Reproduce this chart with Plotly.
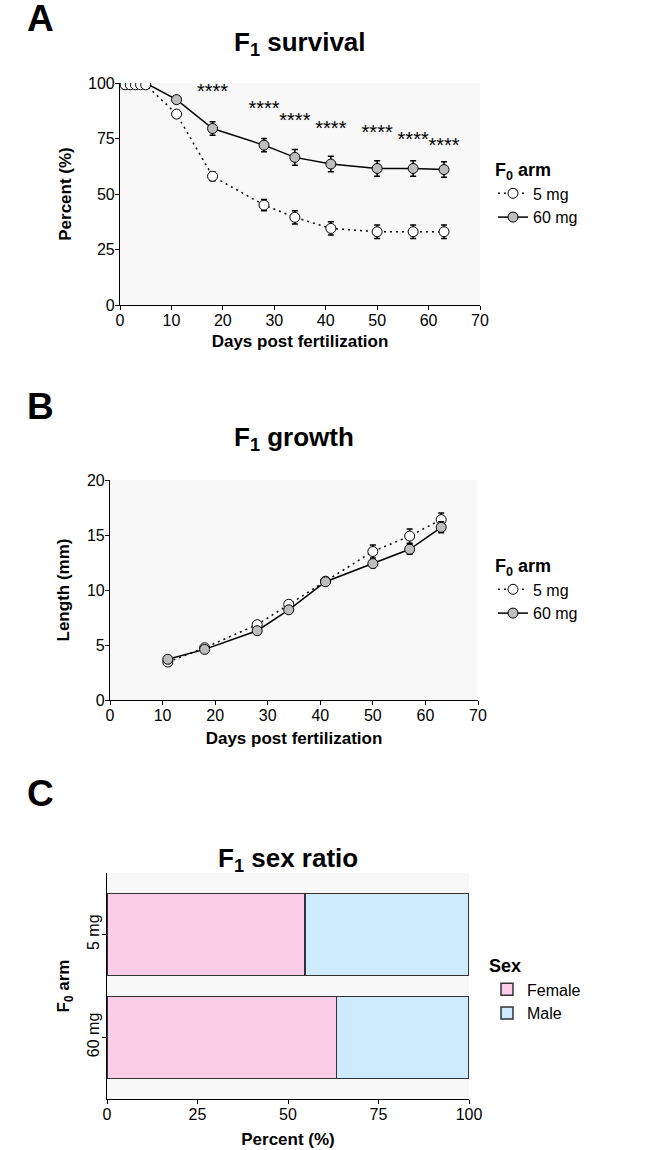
import plotly.graph_objects as go

# ---------------- data ----------------
days_surv = [1, 2, 3, 4, 5, 11, 18, 28, 34, 41, 50, 57, 63]
surv_5mg = [99.2, 99.2, 99.2, 99.2, 99.2, 86, 58, 45, 39.5, 34.5, 33, 33, 33]
surv_5mg_err = [0, 0, 0, 0, 0, 1, 2, 2.5, 3, 3, 3, 3, 3]
surv_60mg = [100, 100, 100, 100, 100, 92.5, 79.5, 72, 66.5, 63.5, 61.5, 61.5, 61]
surv_60mg_err = [0, 0, 0, 0, 0, 1.5, 3, 3, 3.5, 3.5, 3.5, 3.5, 3.5]

star_days = [18, 28, 34, 41, 50, 57, 63]
star_y = [95.5, 88, 82.5, 79, 77, 74, 71]
star_labels = ["****"] * 7

days_growth = [11, 18, 28, 34, 41, 50, 57, 63]
len_5mg = [3.45, 4.75, 6.85, 8.7, 10.8, 13.5, 14.9, 16.4]
len_5mg_err = [0.15, 0.2, 0.2, 0.35, 0.3, 0.6, 0.65, 0.6]
len_60mg = [3.7, 4.6, 6.3, 8.2, 10.75, 12.4, 13.7, 15.7]
len_60mg_err = [0.15, 0.2, 0.2, 0.25, 0.3, 0.35, 0.45, 0.5]

arms = ["5 mg", "60 mg"]
female_pct = [54.7, 63.4]
male_pct = [45.3, 36.6]

# ---------------- style ----------------
FONT = "Liberation Sans, Arial, Helvetica, sans-serif"
W, H = 650, 1150
BG = "#F8F8F8"
GREY = "#BEBEBE"
FEMALE = "#FCCDE6"
MALE = "#CDEBFC"


def px_x(x):
    return x / W


def px_y(y):
    return 1 - y / H


fig = go.Figure()

# ---- Panel A : survival (60 mg drawn first so 5 mg circles sit on top at days 1-5) ----
fig.add_trace(go.Scatter(
    x=days_surv, y=surv_60mg, name="60 mg", mode="lines+markers", legendrank=2,
    line=dict(color="black", width=1.5),
    marker=dict(symbol="circle", size=10, color=GREY, line=dict(color="black", width=1)),
    error_y=dict(type="data", array=surv_60mg_err, color="black", thickness=1.5, width=3),
    xaxis="x", yaxis="y", legend="legend"))
fig.add_trace(go.Scatter(
    x=days_surv, y=surv_5mg, name="5 mg", mode="lines+markers", legendrank=1,
    line=dict(color="black", width=1.5, dash="2px,4px"),
    marker=dict(symbol="circle", size=10, color="white", line=dict(color="black", width=1)),
    error_y=dict(type="data", array=surv_5mg_err, color="black", thickness=1.5, width=3),
    xaxis="x", yaxis="y", legend="legend"))
fig.add_trace(go.Scatter(
    x=star_days, y=star_y, text=star_labels, mode="text",
    textfont=dict(family=FONT, size=20, color="black"), textposition="middle center",
    showlegend=False, hoverinfo="skip", cliponaxis=False,
    xaxis="x", yaxis="y"))

# ---- Panel B : growth ----
fig.add_trace(go.Scatter(
    x=days_growth, y=len_5mg, name="5 mg", mode="lines+markers", legendrank=1,
    line=dict(color="black", width=1.5, dash="2px,4px"),
    marker=dict(symbol="circle", size=10, color="white", line=dict(color="black", width=1)),
    error_y=dict(type="data", array=len_5mg_err, color="black", thickness=1.5, width=3),
    xaxis="x2", yaxis="y2", legend="legend2"))
fig.add_trace(go.Scatter(
    x=days_growth, y=len_60mg, name="60 mg", mode="lines+markers", legendrank=2,
    line=dict(color="black", width=1.5),
    marker=dict(symbol="circle", size=10, color=GREY, line=dict(color="black", width=1)),
    error_y=dict(type="data", array=len_60mg_err, color="black", thickness=1.5, width=3),
    xaxis="x2", yaxis="y2", legend="legend2"))

# ---- Panel C : sex ratio ----
fig.add_trace(go.Bar(
    y=arms, x=female_pct, name="Female", orientation="h", width=0.8,
    marker=dict(color=FEMALE, line=dict(color="#333333", width=1.5)),
    xaxis="x3", yaxis="y3", legend="legend3"))
fig.add_trace(go.Bar(
    y=arms, x=male_pct, name="Male", orientation="h", width=0.8,
    marker=dict(color=MALE, line=dict(color="#333333", width=1.5)),
    xaxis="x3", yaxis="y3", legend="legend3"))

tickfont = dict(family=FONT, size=16, color="black")
titlefont = dict(family=FONT, size=17, color="black")

axis_common = dict(
    showline=True, linecolor="black", linewidth=1.2, ticks="outside", ticklen=4,
    tickcolor="black", tickwidth=1, showgrid=False, zeroline=False, tickfont=tickfont,
    mirror=False, automargin=False, ticklabelstandoff=-3,
)

legend_common = dict(
    xanchor="left", yanchor="top", bgcolor="rgba(0,0,0,0)", itemwidth=30,
    tracegroupgap=0, font=dict(family=FONT, size=16), traceorder="normal",
)

layout = dict(
    width=W, height=H,
    margin=dict(l=0, r=0, t=0, b=0, pad=0, autoexpand=False),
    paper_bgcolor="white",
    plot_bgcolor=BG,
    font=dict(family=FONT, color="black"),
    barmode="stack",
    showlegend=True,
    # Panel A axes
    xaxis=dict(axis_common, domain=[px_x(120), px_x(480)], range=[0, 70], tickvals=[0, 10, 20, 30, 40, 50, 60, 70],
               anchor="y", title=dict(text="<b>Days post fertilization</b>", font=titlefont, standoff=6)),
    yaxis=dict(axis_common, domain=[px_y(305), px_y(83)], range=[0, 100], tickvals=[0, 25, 50, 75, 100],
               anchor="x", title=dict(text="<b>Percent (%)</b>", font=titlefont, standoff=12)),
    # Panel B axes
    xaxis2=dict(axis_common, domain=[px_x(110), px_x(478)], range=[0, 70], tickvals=[0, 10, 20, 30, 40, 50, 60, 70],
                anchor="y2", title=dict(text="<b>Days post fertilization</b>", font=titlefont, standoff=8)),
    yaxis2=dict(axis_common, domain=[px_y(700), px_y(480)], range=[0, 20], tickvals=[0, 5, 10, 15, 20],
                anchor="x2", title=dict(text="<b>Length (mm)</b>", font=titlefont, standoff=12)),
    # Panel C axes
    xaxis3=dict(axis_common, domain=[px_x(107), px_x(469)], range=[0, 100], tickvals=[0, 25, 50, 75, 100],
                anchor="y3", title=dict(text="<b>Percent (%)</b>", font=titlefont, standoff=10)),
    yaxis3=dict(axis_common, domain=[px_y(1099), px_y(873)], type="category",
                categoryorder="array", categoryarray=["60 mg", "5 mg"], range=[-0.6, 1.6],
                tickangle=-90, anchor="x3",
                title=dict(text="<b>F<sub>0</sub> arm</b>", font=titlefont, standoff=10)),
    legend=dict(legend_common, x=px_x(493), y=px_y(153),
                title=dict(text="<b>F<sub>0</sub> arm</b>", font=dict(family=FONT, size=18))),
    legend2=dict(legend_common, x=px_x(493), y=px_y(549),
                 title=dict(text="<b>F<sub>0</sub> arm</b>", font=dict(family=FONT, size=18))),
    legend3=dict(legend_common, x=px_x(487), y=px_y(949),
                 title=dict(text="<b>Sex</b>", font=dict(family=FONT, size=18))),
    annotations=[
        dict(text="<b>A</b>", x=px_x(40), y=px_y(19), xref="paper", yref="paper", showarrow=False,
             font=dict(family=FONT, size=37), xanchor="center", yanchor="middle"),
        dict(text="<b>B</b>", x=px_x(40), y=px_y(406), xref="paper", yref="paper", showarrow=False,
             font=dict(family=FONT, size=37), xanchor="center", yanchor="middle"),
        dict(text="<b>C</b>", x=px_x(40), y=px_y(793), xref="paper", yref="paper", showarrow=False,
             font=dict(family=FONT, size=37), xanchor="center", yanchor="middle"),
        dict(text="<b>F<sub>1</sub> survival</b>", x=px_x(300), y=px_y(43), xref="paper", yref="paper",
             showarrow=False, font=dict(family=FONT, size=26), xanchor="center", yanchor="middle"),
        dict(text="<b>F<sub>1</sub> growth</b>", x=px_x(294), y=px_y(439), xref="paper", yref="paper",
             showarrow=False, font=dict(family=FONT, size=26), xanchor="center", yanchor="middle"),
        dict(text="<b>F<sub>1</sub> sex ratio</b>", x=px_x(288), y=px_y(859), xref="paper", yref="paper",
             showarrow=False, font=dict(family=FONT, size=26), xanchor="center", yanchor="middle"),
    ],
)

fig.update_layout(**layout)
# remove the browser's default 8px body margin so the figure fills the window exactly
fig.write_html("out.html", config={"displayModeBar": False},
               post_script="document.body.style.margin='0px';")
